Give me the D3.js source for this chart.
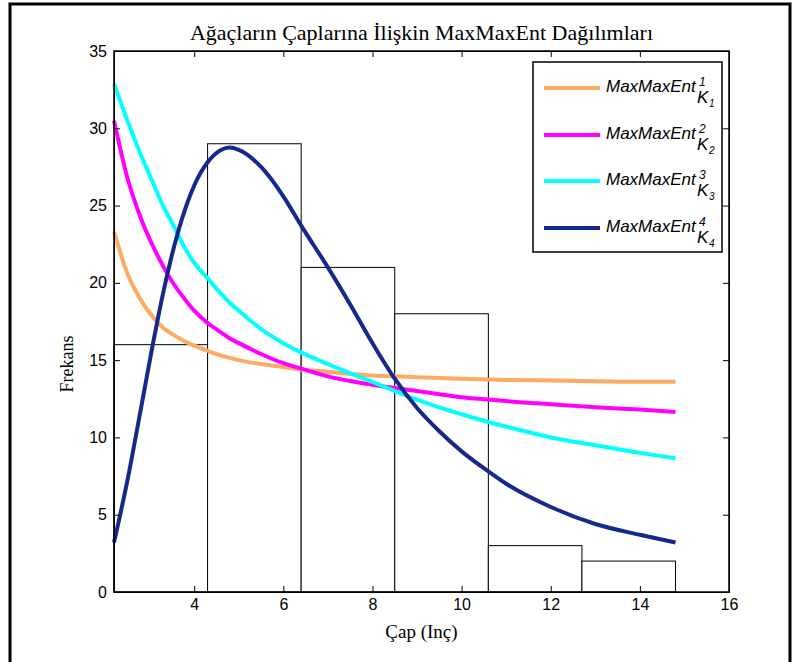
<!DOCTYPE html>
<html>
<head>
<meta charset="utf-8">
<script src="https://cdn.jsdelivr.net/npm/d3@7"></script>
<style>
  body { margin: 0; background: #fff; }
  .serif { font-family: "Liberation Serif", "Times New Roman", serif; }
</style>
</head>
<body>
<div id="vis"></div>
<script>
// sizes
const FRAME_WIDTH = 797;
const FRAME_HEIGHT = 662;
const MARGINS = {left: 114, right: 68, top: 51, bottom: 70};

// histogram data (bin edges and counts)
const binEdges = [2.2, 4.3, 6.4, 8.5, 10.6, 12.7, 14.8];
const binCounts = [16, 29, 21, 18, 3, 2];

// curve x points
const curveX = [2.2, 2.5, 2.8, 3.07, 3.3, 3.5, 3.8, 4.0, 4.3, 4.6, 4.8, 5.0, 5.5, 6.0, 6.4, 7.0, 7.5, 8.0, 8.5, 9.0, 9.5, 10.0, 10.6, 11.0, 12.0, 13.0, 14.0, 14.8];

// series values
const k1 = [23.3, 20.6, 18.9, 17.8, 17.1, 16.7, 16.2, 15.95, 15.6, 15.3, 15.15, 15.0, 14.75, 14.55, 14.4, 14.25, 14.1, 14.0, 13.95, 13.9, 13.85, 13.8, 13.75, 13.72, 13.68, 13.64, 13.6, 13.6];
const k2 = [30.5, 26.8, 24.2, 22.4, 21.1, 20.1, 18.9, 18.2, 17.4, 16.8, 16.4, 16.1, 15.4, 14.8, 14.45, 13.95, 13.65, 13.4, 13.2, 13.0, 12.8, 12.6, 12.45, 12.35, 12.15, 11.95, 11.8, 11.65];
const k3 = [32.9, 30.5, 28.3, 26.5, 25.0, 23.9, 22.2, 21.3, 20.3, 19.3, 18.7, 18.2, 17.0, 16.1, 15.5, 14.75, 14.15, 13.6, 13.0, 12.45, 11.95, 11.5, 11.0, 10.7, 10.0, 9.5, 9.0, 8.65];
const k4 = [3.2, 7.2, 11.8, 16.0, 19.3, 21.8, 24.8, 26.3, 27.8, 28.6, 28.75, 28.6, 27.5, 25.6, 23.7, 21.0, 18.6, 16.1, 13.8, 11.9, 10.4, 9.1, 7.8, 7.0, 5.5, 4.4, 3.7, 3.2];

const seriesNames = ["1", "2", "3", "4"];
const seriesColors = ["#fdab63", "#ff00ff", "#00ffff", "#15288b"];
const allSeries = [k1, k2, k3, k4];

const xTicks = [4, 6, 8, 10, 12, 14, 16];
const yTicks = [0, 5, 10, 15, 20, 25, 30, 35];

const VIS_WIDTH = FRAME_WIDTH - MARGINS.left - MARGINS.right;
const VIS_HEIGHT = FRAME_HEIGHT - MARGINS.top - MARGINS.bottom;

const FRAME = d3.select("#vis")
  .append("svg")
  .attr("width", FRAME_WIDTH)
  .attr("height", FRAME_HEIGHT);

// outer figure border
FRAME.append("rect")
  .attr("x", 10).attr("y", 4)
  .attr("width", 780).attr("height", 680)
  .attr("fill", "none")
  .attr("stroke", "#000")
  .attr("stroke-width", 3);

const X_SCALE = d3.scaleLinear().domain([2.2, 16]).range([0, VIS_WIDTH]);
const Y_SCALE = d3.scaleLinear().domain([0, 35]).range([VIS_HEIGHT, 0]);

const plot = FRAME.append("g")
  .attr("transform", "translate(" + MARGINS.left + "," + MARGINS.top + ")");

// histogram bars
plot.selectAll(".bar")
  .data(binCounts)
  .enter()
  .append("rect")
    .attr("x", (d, i) => X_SCALE(binEdges[i]))
    .attr("y", (d) => Y_SCALE(d))
    .attr("width", (d, i) => X_SCALE(binEdges[i + 1]) - X_SCALE(binEdges[i]))
    .attr("height", (d) => Y_SCALE(0) - Y_SCALE(d))
    .attr("fill", "#fff")
    .attr("stroke", "#000")
    .attr("stroke-width", 1);

// curves
const line = d3.line()
  .x((d, i) => X_SCALE(curveX[i]))
  .y((d) => Y_SCALE(d))
  .curve(d3.curveMonotoneX);

allSeries.forEach((s, i) => {
  plot.append("path")
    .datum(s)
    .attr("d", line)
    .attr("fill", "none")
    .attr("stroke", seriesColors[i])
    .attr("stroke-width", 4);
});

// axes (ticks inward, box around plot)
const TICK_FONT = "Liberation Sans, Arial, sans-serif";
plot.append("g")
  .attr("transform", "translate(0," + VIS_HEIGHT + ")")
  .call(d3.axisBottom(X_SCALE).tickValues(xTicks).tickSizeInner(-6).tickSizeOuter(0).tickPadding(7))
  .attr("font-size", 16).attr("font-family", TICK_FONT);
plot.append("g")
  .call(d3.axisTop(X_SCALE).tickValues(xTicks).tickSizeInner(-6).tickSizeOuter(0).tickFormat(""));
plot.append("g")
  .call(d3.axisLeft(Y_SCALE).tickValues(yTicks).tickSizeInner(-6).tickSizeOuter(0).tickPadding(7))
  .attr("font-size", 16).attr("font-family", TICK_FONT);
plot.append("g")
  .attr("transform", "translate(" + VIS_WIDTH + ",0)")
  .call(d3.axisRight(Y_SCALE).tickValues(yTicks).tickSizeInner(-6).tickSizeOuter(0).tickFormat(""));

plot.append("rect")
  .attr("width", VIS_WIDTH).attr("height", VIS_HEIGHT)
  .attr("fill", "none").attr("stroke", "#000").attr("stroke-width", 1.5);

plot.selectAll(".domain").attr("stroke", "#000");

// title and axis labels
FRAME.append("text")
  .attr("class", "serif")
  .attr("x", MARGINS.left + VIS_WIDTH / 2)
  .attr("y", 40)
  .attr("text-anchor", "middle")
  .attr("font-size", "22px")
  .text("Ağaçların Çaplarına İlişkin MaxMaxEnt Dağılımları");

FRAME.append("text")
  .attr("class", "serif")
  .attr("x", MARGINS.left + VIS_WIDTH / 2)
  .attr("y", 638)
  .attr("text-anchor", "middle")
  .attr("font-size", "19px")
  .text("Çap (Inç)");

FRAME.append("text")
  .attr("class", "serif")
  .attr("transform", "translate(73,364) rotate(-90)")
  .attr("text-anchor", "middle")
  .attr("font-size", "18px")
  .text("Frekans");

// legend
const legend = FRAME.append("g");
legend.append("rect")
  .attr("x", 533).attr("y", 62)
  .attr("width", 189).attr("height", 190)
  .attr("fill", "#fff")
  .attr("stroke", "#000")
  .attr("stroke-width", 1.5);

const legendY = [88, 135, 181, 228];
const LEGEND_FONT = "Liberation Sans, Arial, sans-serif";
seriesNames.forEach((n, i) => {
  const y0 = legendY[i];
  legend.append("line")
    .attr("x1", 544).attr("x2", 600)
    .attr("y1", y0).attr("y2", y0)
    .attr("stroke", seriesColors[i])
    .attr("stroke-width", 4);
  const g = legend.append("g")
    .attr("font-family", LEGEND_FONT)
    .attr("font-style", "italic");
  g.append("text").attr("x", 606).attr("y", y0 + 4).attr("font-size", "17px").text("MaxMaxEnt");
  g.append("text").attr("x", 699).attr("y", y0 - 2).attr("font-size", "12px").text(n);
  g.append("text").attr("x", 697).attr("y", y0 + 15).attr("font-size", "17px").text("K");
  g.append("text").attr("x", 709).attr("y", y0 + 19).attr("font-size", "10px").text(n);
});
</script>
</body>
</html>
